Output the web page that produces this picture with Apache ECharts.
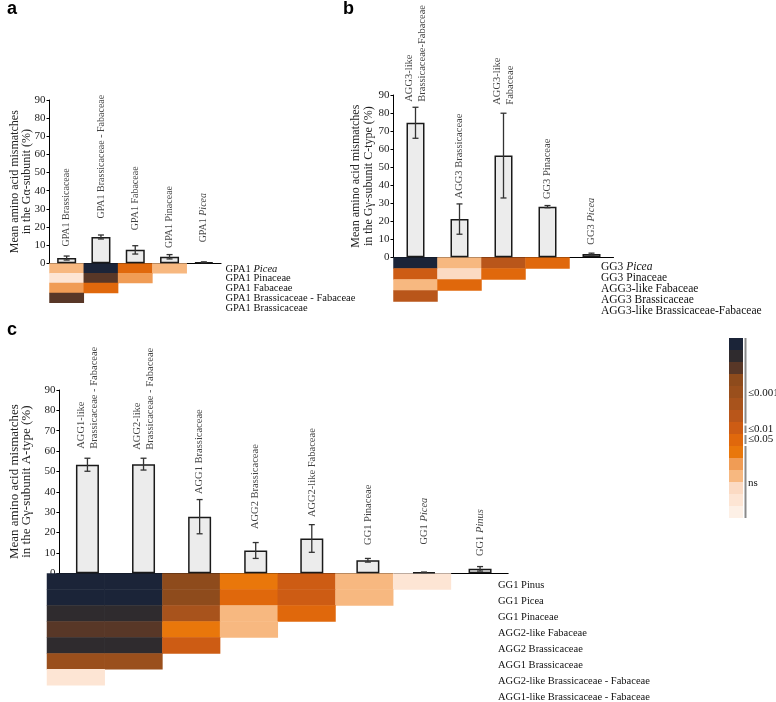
<!DOCTYPE html>
<html><head><meta charset="utf-8">
<script src="https://cdn.jsdelivr.net/npm/echarts@6/dist/echarts.min.js"></script>
<style>html,body{margin:0;padding:0;background:#fff}#c{width:776px;height:702px}</style>
</head><body><div id="c"></div>
<script>
// ---------------- data ----------------
// Panel a (Gα-subunit)
const catsA = ['GPA1 Brassicaceae', 'GPA1 Brassicaceae - Fabaceae', 'GPA1 Fabaceae', 'GPA1 Pinaceae', 'GPA1 Picea'];
const barLabelsA = ['GPA1 Brassicaceae', 'GPA1 Brassicaceae - Fabaceae', 'GPA1 Fabaceae', 'GPA1 Pinaceae', 'GPA1 {i|Picea}'];
const meanA = [2.9, 14.5, 7.4, 3.6, 0.6];
const errA = [1.1, 1.1, 2.3, 1.2, 0.2];
const rowLabelsA = ['GPA1 {i|Picea}', 'GPA1 Pinaceae', 'GPA1 Fabaceae', 'GPA1 Brassicaceae - Fabaceae', 'GPA1 Brassicaceae'];
const heatA = [[4, 15, 7, 4], [2, 13, 5], [5, 7], [13]];

// Panel b (Gγ-subunit C-type)
const catsB = ['AGG3-like Brassicaceae-Fabaceae', 'AGG3 Brassicaceae', 'AGG3-like Fabaceae', 'GG3 Pinaceae', 'GG3 Picea'];
const barLabelsB = ['AGG3-like\nBrassicaceae-Fabaceae', 'AGG3 Brassicaceae', 'AGG3-like\nFabaceae', 'GG3 Pinaceae', 'GG3 {i|Picea}'];
const meanB = [74.6, 21.2, 56.4, 28.1, 1.8];
const errB = [8.6, 8.4, 23.5, 0.6, 0.5];
const rowLabelsB = ['GG3 {i|Picea}', 'GG3 Pinaceae', 'AGG3-like Fabaceae', 'AGG3 Brassicaceae', 'AGG3-like Brassicaceae-Fabaceae'];
const heatB = [[15, 4, 9, 7], [8, 3, 7], [4, 7], [9]];

// Panel c (Gγ-subunit A-type)
const catsC = ['AGG1-like Brassicaceae - Fabaceae', 'AGG2-like Brassicaceae - Fabaceae', 'AGG1 Brassicaceae', 'AGG2 Brassicaceae', 'AGG2-like Fabaceae', 'GG1 Pinaceae', 'GG1 Picea', 'GG1 Pinus'];
const barLabelsC = ['AGG1-like\nBrassicaceae - Fabaceae', 'AGG2-like\nBrassicaceae - Fabaceae', 'AGG1 Brassicaceae', 'AGG2 Brassicaceae', 'AGG2-like Fabaceae', 'GG1 Pinaceae', 'GG1 {i|Picea}', 'GG1 {i|Pinus}'];
const meanC = [53.3, 53.6, 27.8, 11.2, 17.1, 6.4, 0.5, 2.2];
const errC = [3.2, 2.9, 8.4, 3.9, 6.8, 0.9, 0.1, 1.1];
const rowLabelsC = ['GG1 Pinus', 'GG1 Picea', 'GG1 Pinaceae', 'AGG2-like Fabaceae', 'AGG2 Brassicaceae', 'AGG1 Brassicaceae', 'AGG2-like Brassicaceae - Fabaceae', 'AGG1-like Brassicaceae - Fabaceae'];
const heatC = [[15, 15, 12, 6, 8, 4, 2], [15, 15, 12, 7, 8, 4], [14, 14, 10, 4, 7], [13, 13, 6, 4], [14, 14, 8], [11, 11], [2]];

// y-axis ticks
const yMin = 0, yMax = 90, yStep = 10;

// significance colour scale (level 1 = lightest ... 15 = darkest)
const levelColors = ['#fdf0e6', '#fde5d4', '#fbdac3', '#f7b880', '#f09c55', '#e9770b', '#e0680c', '#cd5c14', '#b9561a', '#a8531c', '#9a4f1c', '#8e4b1c', '#583727', '#2f2b2e', '#1b2438'];
const scaleLabels = ['≤0.001', '≤0.01', '≤0.05', 'ns'];

// ---------------- layout / style ----------------
const SERIF = "'Liberation Serif','Times New Roman',serif";
const panels = [
  { cats: catsA, labels: barLabelsA, mean: meanA, err: errA, rows: rowLabelsA, heat: heatA,
    grid: { left: 49.5, top: 100, width: 171.5, height: 163.3 },
    heatGrid: { left: 49.5, top: 263.5, width: 171.5, height: 49 },
    barWidth: 19, labelSize: 10, rowSize: 10.5, rowMargin: 4.5, rowShift: 1,
    nameGap: 16, nameFree: true, nameSize: 12,
    gaps: [9, 16, 15, 6, 19],
    yName: 'Mean amino acid mismatches\nin the Gα-subunit (%)' },
  { cats: catsB, labels: barLabelsB, mean: meanB, err: errB, rows: rowLabelsB, heat: heatB,
    grid: { left: 393.5, top: 95, width: 220, height: 162.3 },
    heatGrid: { left: 393.5, top: 257.5, width: 220, height: 55 },
    barWidth: 18, labelSize: 10.5, rowSize: 11.5, rowMargin: -12.5, rowShift: 7,
    nameGap: 18, nameFree: false, nameSize: 12,
    gaps: [5, 5, 8, 6, 8],
    yName: 'Mean amino acid mismatches\nin the Gγ-subunit C-type (%)' },
  { cats: catsC, labels: barLabelsC, mean: meanC, err: errC, rows: rowLabelsC, heat: heatC,
    grid: { left: 46.5, top: 390, width: 461.6, height: 183.3 },
    heatGrid: { left: 47, top: 573.5, width: 461.6, height: 132.8 },
    barWidth: 23, labelSize: 10.5, rowSize: 10.5, rowMargin: -10.6, rowShift: 7,
    nameGap: 23, nameFree: false, nameSize: 13,
    gaps: [9, 8, 5, 13, 7, 13, 27, 10],
    yName: 'Mean amino acid mismatches\nin the Gγ-subunit A-type (%)' }
];

const grids = [], xAxes = [], yAxes = [];
const barSeries = [], errSeries = [], lblSeries = [], heatSeries = [];
panels.forEach((p, k) => {
  grids.push(Object.assign({ containLabel: false }, p.grid));
  xAxes.push({ gridIndex: k, type: 'category', data: p.cats,
    axisLine: { lineStyle: { color: '#000', width: 1.2 } }, axisTick: { show: false }, axisLabel: { show: false } });
  const ya = { gridIndex: k, type: 'value', min: yMin, max: yMax, interval: yStep,
    axisLine: { show: true, lineStyle: { color: '#000', width: 1 } },
    axisTick: { show: true, length: 3, lineStyle: { color: '#000' } },
    axisLabel: { fontFamily: SERIF, fontSize: 11, color: '#222', margin: 4 },
    splitLine: { show: false },
    name: p.yName, nameLocation: 'middle', nameRotate: 90, nameGap: p.nameGap,
    nameTextStyle: { fontFamily: SERIF, fontSize: p.nameSize, color: '#222', lineHeight: 12.5 } };
  if (p.nameFree) ya.nameMoveOverlap = false;
  yAxes.push(ya);
  barSeries.push({ type: 'bar', xAxisIndex: k, yAxisIndex: k, data: p.mean, barWidth: p.barWidth,
    itemStyle: { color: '#ececec', borderColor: '#1a1a1a', borderWidth: 1.5 }, silent: true, z: 2 });
  errSeries.push({ type: 'custom', xAxisIndex: k, yAxisIndex: k, silent: true, z: 3,
    data: p.mean.map((m, i) => [i, m - p.err[i], m + p.err[i]]),
    encode: { x: 0, y: [1, 2] },
    renderItem: (params, api) => {
      const x = api.value(0);
      const a = api.coord([x, api.value(1)]), b = api.coord([x, api.value(2)]);
      const w = 3, st = { stroke: '#333', lineWidth: 1.3 };
      return { type: 'group', children: [
        { type: 'line', shape: { x1: a[0], y1: a[1], x2: b[0], y2: b[1] }, style: st },
        { type: 'line', shape: { x1: a[0] - w, y1: a[1], x2: a[0] + w, y2: a[1] }, style: st },
        { type: 'line', shape: { x1: b[0] - w, y1: b[1], x2: b[0] + w, y2: b[1] }, style: st }
      ] };
    } });
  lblSeries.push({ type: 'scatter', xAxisIndex: k, yAxisIndex: k, silent: true, symbolSize: 1,
    itemStyle: { color: 'transparent' }, z: 4,
    data: p.mean.map((m, i) => ({ value: [i, m + p.err[i]], label: { distance: p.gaps[i] } })),
    label: { show: true, position: 'top', rotate: 90, align: 'left', verticalAlign: 'middle',
      fontFamily: SERIF, fontSize: p.labelSize, color: '#111', lineHeight: p.labelSize + 2.5,
      formatter: prm => p.labels[prm.dataIndex],
      rich: { i: { fontFamily: SERIF, fontSize: p.labelSize, fontStyle: 'italic', color: '#111' } } } });
});
panels.forEach((p, k) => {
  const g = 3 + k;
  grids.push(Object.assign({ containLabel: false }, p.heatGrid));
  xAxes.push({ gridIndex: g, type: 'category', data: p.cats, show: false });
  yAxes.push({ gridIndex: g, type: 'category', data: p.rows.map((r, i) => i), inverse: true, position: 'right',
    axisLine: { show: false }, axisTick: { show: false }, splitLine: { show: false },
    axisLabel: { interval: 0, hideOverlap: false, margin: p.rowMargin, padding: [p.rowShift, 0, 0, 0],
      fontFamily: SERIF, fontSize: p.rowSize, color: '#111',
      formatter: (v, i) => p.rows[i],
      rich: { i: { fontFamily: SERIF, fontSize: p.rowSize, fontStyle: 'italic', color: '#111' } } } });
  const cells = [];
  p.heat.forEach((row, r) => row.forEach((lv, c) => cells.push([c, r, lv])));
  heatSeries.push({ type: 'heatmap', xAxisIndex: g, yAxisIndex: g, data: cells, silent: true,
    itemStyle: { borderWidth: 0 } });
});

const series = [...barSeries, ...errSeries, ...lblSeries, ...heatSeries];
const heatIdx = [9, 10, 11];

// colour-scale brackets
const bx = 745.5;
const brackets = [[338, 423.5], [425.5, 433], [435, 444], [446, 518]];
const bracketText = [393, 429, 439.5, 483];
const graphic = [];
brackets.forEach(b => graphic.push({ type: 'line', shape: { x1: bx, y1: b[0], x2: bx, y2: b[1] },
  style: { stroke: '#8a8a8a', lineWidth: 2 }, silent: true }));
scaleLabels.forEach((t, i) => graphic.push({ type: 'text', x: 748, y: bracketText[i],
  style: { text: t, fontFamily: SERIF, fontSize: 11, fill: '#111', verticalAlign: 'middle', align: 'left' }, silent: true }));

const chart = echarts.init(document.getElementById('c'), null, { renderer: 'canvas' });
chart.setOption({
  animation: false,
  backgroundColor: '#fff',
  title: [
    { text: 'a', left: 7, top: 0, padding: 0 },
    { text: 'b', left: 343, top: 0, padding: 0 },
    { text: 'c', left: 7, top: 321, padding: 0 }
  ].map(t => Object.assign(t, { textStyle: { fontFamily: "'Liberation Sans',Arial,sans-serif", fontWeight: 'bold', fontSize: 18, color: '#000' } })),
  grid: grids,
  xAxis: xAxes,
  yAxis: yAxes,
  visualMap: {
    type: 'piecewise', seriesIndex: heatIdx, dimension: 2,
    pieces: levelColors.map((c, i) => ({ value: i + 1, color: c })),
    orient: 'vertical', left: 729, top: 338, itemWidth: 14, itemHeight: 12, itemGap: 0,
    itemSymbol: 'rect', showLabel: false, selectedMode: false, hoverLink: false, padding: 0
  },
  series: series,
  graphic: graphic
});
</script></body></html>
